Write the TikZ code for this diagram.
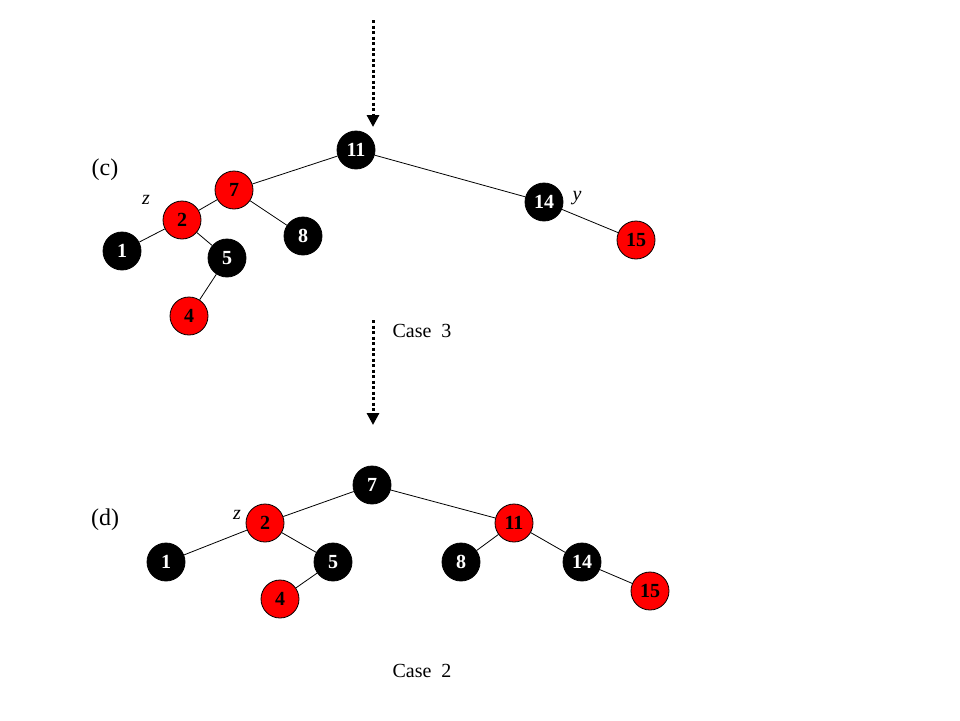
\documentclass[tikz,border=0pt]{standalone}
\usepackage{fontspec}
\setmainfont{Liberation Serif}
\usetikzlibrary{arrows.meta}
\begin{document}
\begin{tikzpicture}[x=1pt,y=-1pt,
  nodebase/.style={circle,draw=black,line width=0.8pt,minimum size=38pt,inner sep=0pt,font=\fontsize{20}{20}\selectfont\bfseries},
  bn/.style={nodebase,fill=black,text=white},
  rn/.style={nodebase,fill=red,text=black},
  treeedge/.style={draw=black,line width=0.8pt},
  darrow/.style={line width=3pt,dash pattern=on 3pt off 2.5pt,-{Triangle[width=12pt,length=12pt]}},
  lbl/.style={font=\fontsize{20}{20}\selectfont,inner sep=0pt},
  tag/.style={font=\fontsize{24}{24}\selectfont,inner sep=0pt},
  var/.style={font=\fontsize{20}{20}\selectfont\itshape,inner sep=0pt}]
\useasboundingbox (0,0) rectangle (960,720);
% arrows
\coordinate (a1s) at (373,20);
\coordinate (a1e) at (373,127);
\coordinate (a2s) at (373,320);
\coordinate (a2e) at (373,425);
\draw[darrow] (a1s) -- (a1e);
\draw[darrow] (a2s) -- (a2e);
% top tree (c)
\node[bn] (c11) at (356,150) {11};
\node[rn] (c7) at (234,190) {7};
\node[rn] (c2) at (182,220) {2};
\node[bn] (c1) at (122,251) {1};
\node[bn] (c5) at (227,258) {5};
\node[rn] (c4) at (189,316) {4};
\node[bn] (c8) at (303,236) {8};
\node[bn] (c14) at (544,202) {14};
\node[rn] (c15) at (636,240) {15};
\draw[treeedge] (c11) -- (c7);
\draw[treeedge] (c11) -- (c14);
\draw[treeedge] (c7) -- (c2);
\draw[treeedge] (c7) -- (c8);
\draw[treeedge] (c2) -- (c1);
\draw[treeedge] (c2) -- (c5);
\draw[treeedge] (c5) -- (c4);
\draw[treeedge] (c14) -- (c15);
\node[tag] (tc) at (105,170) {(c)};
\node[var] (zc) at (146,200) {z};
\node[var] (yc) at (577,198) {y};
\node[lbl] (case3) at (422,331) {Case\ \ 3};
% bottom tree (d)
\node[bn] (d7) at (372,485) {7};
\node[rn] (d2) at (265,523) {2};
\node[bn] (d1) at (166,562) {1};
\node[bn] (d5) at (333,562) {5};
\node[rn] (d4) at (280,599) {4};
\node[rn] (d11) at (514,523) {11};
\node[bn] (d8) at (461,562) {8};
\node[bn] (d14) at (582,562) {14};
\node[rn] (d15) at (650,591) {15};
\draw[treeedge] (d7) -- (d2);
\draw[treeedge] (d7) -- (d11);
\draw[treeedge] (d2) -- (d1);
\draw[treeedge] (d2) -- (d5);
\draw[treeedge] (d5) -- (d4);
\draw[treeedge] (d11) -- (d8);
\draw[treeedge] (d11) -- (d14);
\draw[treeedge] (d14) -- (d15);
\node[tag] (td) at (105,520) {(d)};
\node[var] (zd) at (237,515) {z};
\node[lbl] (case2) at (422,671) {Case\ \ 2};
\end{tikzpicture}
\end{document}
